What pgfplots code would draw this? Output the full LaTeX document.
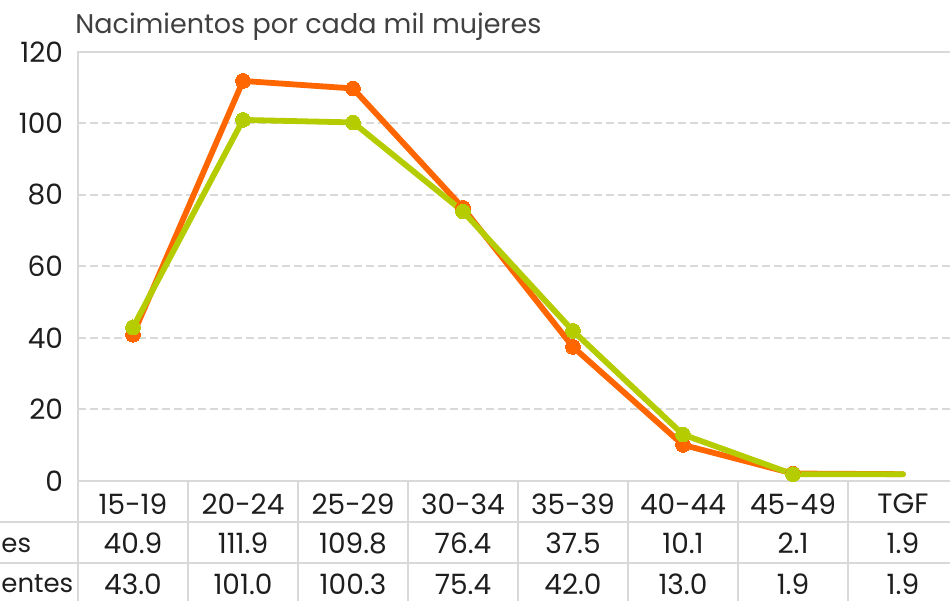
\documentclass[border=0pt]{standalone}
\usepackage{pgfplots}
\pgfplotsset{compat=1.18}
\usepackage{fontspec}
\setmainfont{Poppins}
\definecolor{naranja}{HTML}{FF6600}
\definecolor{verde}{HTML}{B5CC00}
\definecolor{rejilla}{HTML}{D9D9D9}
\definecolor{texto}{HTML}{1E1E1E}
\newcommand{\fs}{\fontsize{14bp}{16bp}\selectfont}
\newcommand{\ft}{\fontsize{13.5bp}{16bp}\selectfont}
\newcommand{\fl}{\fontsize{13bp}{16bp}\selectfont}
\begin{document}
\begin{tikzpicture}
\useasboundingbox (0,0) rectangle (475bp,300.5bp);
\clip (0,0) rectangle (475bp,300.5bp);
% table grid
\draw[rejilla, line width=1bp] (0,39.5bp) -- (480bp,39.5bp);
\draw[rejilla, line width=1bp] (0,19bp) -- (480bp,19bp);
\foreach \k in {1,...,7} {
  \draw[rejilla, line width=1bp] ({39bp+55bp*\k},0) -- ({39bp+55bp*\k},60bp);
}
\draw[rejilla, line width=1bp] (39bp,0) -- (39bp,60bp);
\begin{axis}[
  at={(39bp,60bp)}, anchor=south west, scale only axis,
  width=440bp, height=214.5bp,
  xmin=-0.5, xmax=7.5, ymin=0, ymax=120,
  clip=false,
  ytick={0,20,...,120},
  xtick={0,...,7},
  xticklabels={15-19,20-24,25-29,30-34,35-39,40-44,45-49,TGF},
  major tick length=0,
  axis line style={rejilla, line width=1bp},
  ymajorgrids,
  grid style={rejilla, line width=1bp, dash pattern=on 4bp off 2bp},
  yticklabel style={anchor=east, xshift=-4bp, font=\fs, text=texto},
  xticklabel style={anchor=center, yshift=-11.5bp, font=\fs, text=texto},
  /pgf/number format/assume math mode=true,
]
\addplot[naranja, line width=2.9bp, line join=round, line cap=round,
  mark=*, mark size=3.7bp, mark indices={1,2,3,4,5,6,7},
  mark options={solid, fill=naranja, draw=naranja, line width=0pt}]
  coordinates {(0,40.9) (1,111.9) (2,109.8) (3,76.4) (4,37.5) (5,10.1) (6,2.1) (7,1.9)};
\addplot[verde, line width=2.9bp, line join=round, line cap=round,
  mark=*, mark size=3.7bp, mark indices={1,2,3,4,5,6,7},
  mark options={solid, fill=verde, draw=verde, line width=0pt}]
  coordinates {(0,43.0) (1,101.0) (2,100.3) (3,75.4) (4,42.0) (5,13.0) (6,1.9) (7,1.9)};
\begin{scope}[every node/.style={font=\fs, text=texto, inner sep=0pt}]
\node at ([yshift=-31bp]axis cs:0,0) {40.9};
\node at ([yshift=-31bp]axis cs:1,0) {111.9};
\node at ([yshift=-31bp]axis cs:2,0) {109.8};
\node at ([yshift=-31bp]axis cs:3,0) {76.4};
\node at ([yshift=-31bp]axis cs:4,0) {37.5};
\node at ([yshift=-31bp]axis cs:5,0) {10.1};
\node at ([yshift=-31bp]axis cs:6,0) {2.1};
\node at ([yshift=-31bp]axis cs:7,0) {1.9};
\node at ([yshift=-51.5bp]axis cs:0,0) {43.0};
\node at ([yshift=-51.5bp]axis cs:1,0) {101.0};
\node at ([yshift=-51.5bp]axis cs:2,0) {100.3};
\node at ([yshift=-51.5bp]axis cs:3,0) {75.4};
\node at ([yshift=-51.5bp]axis cs:4,0) {42.0};
\node at ([yshift=-51.5bp]axis cs:5,0) {13.0};
\node at ([yshift=-51.5bp]axis cs:6,0) {1.9};
\node at ([yshift=-51.5bp]axis cs:7,0) {1.9};
\end{scope}
\end{axis}
\node[font=\fl, text=texto, inner sep=0pt, anchor=base west] at (0.5bp,24.5bp) {es};
\node[font=\fl, text=texto, inner sep=0pt, anchor=base west] at (0.5bp,4.5bp) {entes};
\node[font=\ft, text=texto!85!white, inner sep=0pt, anchor=base west] at (37.5bp,283.5bp) {Nacimientos por cada mil mujeres};
\end{tikzpicture}
\end{document}
